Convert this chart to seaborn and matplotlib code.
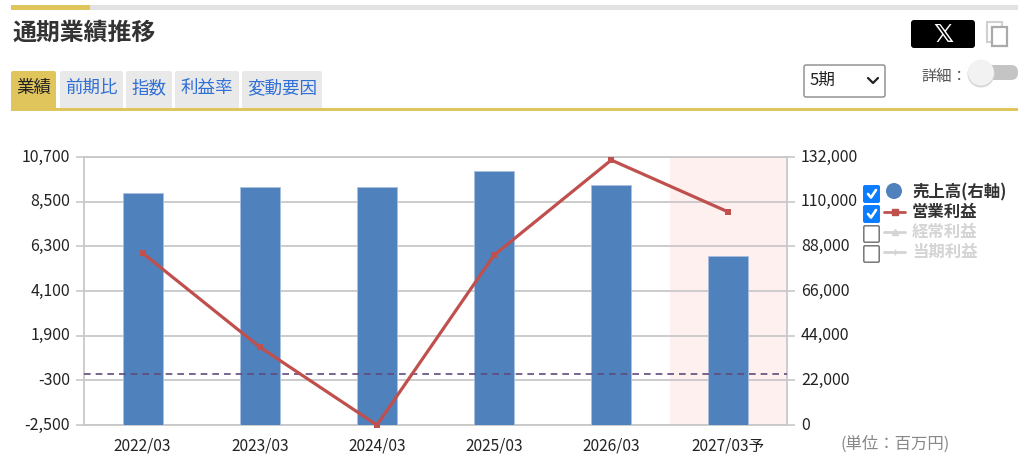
# -*- coding: utf-8 -*-
import matplotlib
matplotlib.use('Agg')
import matplotlib.pyplot as plt
from matplotlib.patches import Circle, FancyBboxPatch, Rectangle
from matplotlib.transforms import ScaledTranslation
import pandas as pd
import seaborn as sns

# values
periods = ['2022/03', '2023/03', '2024/03', '2025/03', '2026/03', '2027/03予']
sales = [114300, 117200, 117200, 125100, 118000, 83200]
op_profit = [5970, 1340, -2500, 5870, 10550, 7990]
left_ticks = [-2500, -300, 1900, 4100, 6300, 8500, 10700]
right_ticks = [0, 22000, 44000, 66000, 88000, 110000, 132000]
tabs = ['業績', '前期比', '指数', '利益率', '変動要因']
legend_labels = ['売上高(右軸)', '営業利益', '経常利益', '当期利益']

sns.set_theme(style='white')
plt.rcParams['font.family'] = ['Noto Sans CJK JP', 'DejaVu Sans']

BLUE = '#4f81bd'
RED = '#c0504d'
GRID = '#c8c8c8'
YELLOW = '#e0c45c'
TXT = '#333333'

df = pd.DataFrame({'period': periods, 'sales': sales, 'op': op_profit})

fig = plt.figure(figsize=(10.24, 4.57), dpi=100)
fig.patch.set_facecolor('white')

# plot area: x 84-787, y 157-425 in pixels
ax = fig.add_axes([84 / 1024, 1 - 425 / 457, 703 / 1024, 268 / 457])
ax.axvspan(4.5, 5.5, color='#fdf0ee', lw=0, zorder=0)
sns.barplot(data=df, x='period', y='sales', color=BLUE, saturation=1, width=0.34,
            edgecolor='#a9c0de', linewidth=0.6, ax=ax, zorder=3)
ax.set_xlim(-0.5, 5.5)
ax.set_ylim(0, 132000)
ax.set_xlabel('')
ax.set_ylabel('')
ax.grid(axis='y', color=GRID, lw=1.3, zorder=1)
ax.set_axisbelow(True)
ax.tick_params(axis='x', length=0, labelsize=11.2, labelcolor='#222222', pad=9)
ax.set_xticks([0.5, 1.5, 2.5, 3.5, 4.5], minor=True)
ax.tick_params(axis='x', which='minor', direction='in', length=7, width=1.2, color=GRID)
for s in ax.spines.values():
    s.set_color(GRID)
    s.set_linewidth(1.3)

# operating profit on the left axis
ax2 = ax.twinx()
sns.lineplot(data=df, x='period', y='op', color=RED, lw=2.3, marker='s', markersize=4.5,
             markeredgewidth=0, ax=ax2, clip_on=False, zorder=5)
ax2.axhline(0, color='#604a7b', lw=1.2, ls=(0, (4, 3)), zorder=4)
ax2.set_ylim(-2500, 10700)
ax2.set_yticks(left_ticks)
ax2.set_yticklabels([f'{v:,}' for v in left_ticks])
ax2.yaxis.tick_left()
ax2.set_xlabel('')
ax2.set_ylabel('')
ax2.tick_params(axis='y', length=6, width=1.2, color=GRID, labelsize=11.5, labelcolor='#222222', pad=4)
ax2.grid(False)
for s in ax2.spines.values():
    s.set_visible(False)

# twinx moves the first axis to the left, so set the right side after it
ax.set_yticks(right_ticks)
ax.set_yticklabels([f'{v:,}' for v in right_ticks])
ax.yaxis.tick_right()
ax.tick_params(axis='y', length=6, width=1.2, color=GRID, labelsize=11.5, labelcolor='#222222', pad=4)

# y labels sit a little above their ticks
shift = ScaledTranslation(0, 2 / 100, fig.dpi_scale_trans)
for lbl in ax.get_yticklabels() + ax2.get_yticklabels():
    lbl.set_transform(lbl.get_transform() + shift)

# page furniture, drawn in pixel coordinates
ui = fig.add_axes([0, 0, 1, 1], facecolor='none')
ui.set_xlim(0, 1024)
ui.set_ylim(457, 0)
ui.axis('off')

ui.add_patch(Rectangle((11, 5), 1007, 5, color='#e2e2e2', lw=0))
ui.add_patch(Rectangle((11, 5), 79, 5, color=YELLOW, lw=0))
ui.text(12, 33, '通期業績推移', fontsize=17.2, fontweight='bold', color=TXT, va='center')

tab_x = [(11, 56), (60, 123), (126, 172), (175, 239), (242, 322)]
for i, (name, (x0, x1)) in enumerate(zip(tabs, tab_x)):
    ui.add_patch(FancyBboxPatch((x0 + 2, 73), x1 - x0 - 4, 38, boxstyle='round,pad=2',
                                fc=YELLOW if i == 0 else '#e9e9e9', ec='none', zorder=1))
    ui.text((x0 + x1) / 2, 88, name, fontsize=12.6, ha='center', va='center',
            color='#222222' if i == 0 else '#2f6fd6', zorder=3)
ui.add_patch(Rectangle((0, 111), 1024, 12, color='white', lw=0, zorder=2))
ui.add_patch(Rectangle((11, 108), 1007, 3, color=YELLOW, lw=0, zorder=2))

# X button and copy icon
ui.add_patch(FancyBboxPatch((914, 23), 58, 22, boxstyle='round,pad=3', fc='black', ec='none'))
ui.text(943, 34.5, '\U0001D54F', fontsize=18, fontweight='bold', color='white',
        ha='center', va='center', family='DejaVu Sans')
ui.add_patch(Rectangle((987, 22), 15, 20, fc='none', ec='#d0d0d0', lw=1.5))
ui.add_patch(Rectangle((992, 27), 15, 19, fc='white', ec='#aaaaaa', lw=1.6))

# period select
ui.add_patch(FancyBboxPatch((806, 67), 77, 28, boxstyle='round,pad=2', fc='white', ec='#888888', lw=1))
ui.text(810, 80, '5期', fontsize=12, color='#222222', va='center')
ui.plot([868, 873, 878], [78, 83, 78], color='#222222', lw=1.6)

# detail toggle
ui.text(921, 76, '詳細：', fontsize=11, color='#555555', va='center')
ui.add_patch(FancyBboxPatch((985, 65), 33, 15, boxstyle='round,pad=0,rounding_size=7', fc='#c4c4c4', ec='none'))
ui.add_patch(Circle((981, 74), 13.5, fc='#d8d8d8', ec='none'))
ui.add_patch(Circle((981, 72.5), 13, fc='#f2f2f2', ec='none'))

# legend
row_y = [194, 214, 234, 254]
for i, (name, y) in enumerate(zip(legend_labels, row_y)):
    on = i < 2
    ui.add_patch(FancyBboxPatch((865, y - 7), 13, 14, boxstyle='round,pad=1.2',
                                fc='#0a7cff' if on else 'white', ec='#0a7cff' if on else '#777777', lw=1.1))
    if on:
        ui.plot([868, 871, 876], [y, y + 3.5, y - 4], color='white', lw=1.9)
    ui.text(912, y - 2, name, fontsize=11.8, fontweight='bold', va='center',
            color='#333333' if on else '#d4d4d4')
ui.add_patch(Circle((894, 191), 8, fc=BLUE, ec='none'))
ui.plot([884, 905], [212, 212], color=RED, lw=2)
ui.plot([894.5], [212], color=RED, marker='s', markersize=5)
ui.plot([884, 905], [232, 232], color='#d4d4d4', lw=2)
ui.plot([894.5], [232], color='#d4d4d4', marker='^', markersize=5)
ui.plot([884, 905], [252, 252], color='#d4d4d4', lw=2)
ui.plot([894.5], [252], color='#d4d4d4', marker='+', markersize=5)

ui.text(840, 444, '(単位：百万円)', fontsize=11.8, color='#888888', va='center')

plt.savefig('out.png', dpi=100)
